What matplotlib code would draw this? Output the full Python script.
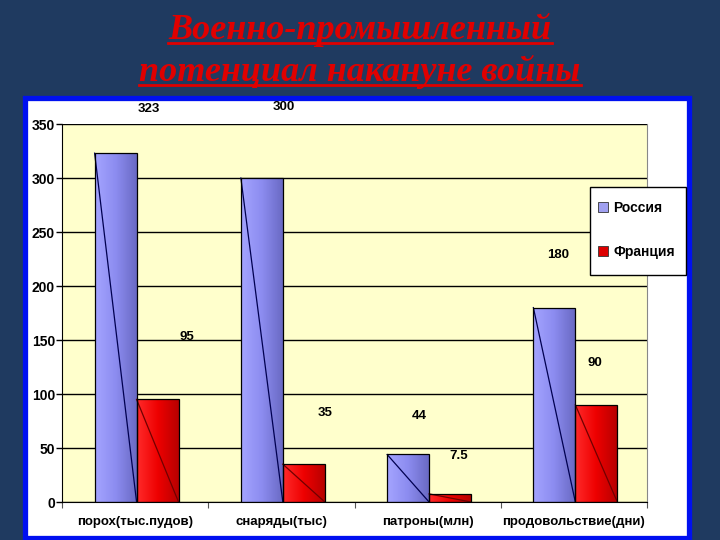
import matplotlib
matplotlib.use('Agg')
import matplotlib.pyplot as plt
import matplotlib.patches as mpatches
from matplotlib.colors import LinearSegmentedColormap
import numpy as np

# data
categories = ['порох(тыс.пудов)', 'снаряды(тыс)', 'патроны(млн)', 'продовольствие(дни)']
russia = [323, 300, 44, 180]
france = [95, 35, 7.5, 90]
series_names = ['Россия', 'Франция']
value_labels_ru = ['323', '300', '44', '180']
value_labels_fr = ['95', '35', '7.5', '90']
yticks = [0, 50, 100, 150, 200, 250, 300, 350]
title_lines = ['Военно-промышленный', 'потенциал накануне войны']

# where the (oddly placed) value labels sit, in points from the bar top centre
offs_ru = [(24, 32), (16, 51), (8, 28), (3, 38)]
offs_fr = [(21, 45), (15, 37), (6, 27), (-1, 30)]

plt.rcParams['font.family'] = ['Liberation Sans', 'DejaVu Sans']

fig = plt.figure(figsize=(7.2, 5.4), dpi=100)
fig.patch.set_facecolor('#1F3A60')

# white panel with blue frame
panel = mpatches.Rectangle((25 / 720, 1 - 537.5 / 540), 664 / 720, 440 / 540,
                           transform=fig.transFigure, facecolor='white',
                           edgecolor='#0010F0', linewidth=3.8, zorder=-1)
fig.patches.append(panel)

ax = fig.add_axes([62 / 720, 1 - 502 / 540, 585 / 720, 378 / 540])
ax.set_facecolor('#FFFFCC')
ax.set_zorder(1)

x = np.arange(len(categories))
w = 0.287
cm_ru = LinearSegmentedColormap.from_list('ru', ['#A4A4FF', '#8C8CF0', '#6A6AC4'])
cm_fr = LinearSegmentedColormap.from_list('fr', ['#FF2A2A', '#EE0000', '#B80000'])

bars_ru = ax.bar(x - w / 2 + 0.01, russia, w, facecolor='none', edgecolor='black', lw=0.9, zorder=3)
bars_fr = ax.bar(x + w / 2 + 0.01, france, w, facecolor='none', edgecolor='black', lw=0.9, zorder=3)

grad = np.linspace(0, 1, 64).reshape(1, -1)
for bars, cm, lc in [(bars_ru, cm_ru, '#000050'), (bars_fr, cm_fr, '#700000')]:
    for b in bars:
        x0, wd, h = b.get_x(), b.get_width(), b.get_height()
        im = ax.imshow(grad, cmap=cm, extent=(x0, x0 + wd, 0, h), aspect='auto', zorder=2)
        im.set_clip_path(b)
        ax.plot([x0, x0 + wd], [h, 0], color=lc, lw=0.9, zorder=2.5)

ax.set_xlim(-0.5, len(categories) - 0.5)
ax.set_ylim(0, 350)

# value labels
for bars, labs, offs in [(bars_ru, value_labels_ru, offs_ru), (bars_fr, value_labels_fr, offs_fr)]:
    for b, lab, (dx, dy) in zip(bars, labs, offs):
        ax.annotate(lab, (b.get_x() + b.get_width() / 2, b.get_height()),
                    xytext=(dx, dy), textcoords='offset points', ha='center', va='center',
                    fontsize=9.5, fontweight='bold', color='black',
                    annotation_clip=False, zorder=5)

ax.set_yticks(yticks)
ax.set_yticklabels([str(t) for t in yticks], fontsize=10, fontweight='bold')
ax.yaxis.grid(True, color='black', lw=1)
ax.set_axisbelow(True)
ax.tick_params(axis='y', length=4, width=1, pad=1)

ax.set_xticks(x)
ax.set_xticklabels(categories, fontsize=9.5, fontweight='bold')
ax.tick_params(axis='x', length=0, pad=10)
ax.set_xticks(np.arange(len(categories) + 1) - 0.5, minor=True)
ax.tick_params(axis='x', which='minor', length=4, width=0.8, color='#555555')

ax.spines['top'].set_visible(False)
ax.spines['right'].set_color('#888888')
ax.spines['left'].set_color('black')
ax.spines['bottom'].set_color('black')

# legend: frame drawn separately so it can be taller than its entries
leg_frame = mpatches.Rectangle((590 / 720, 1 - 275 / 540), 96 / 720, 88 / 540,
                               transform=fig.transFigure, facecolor='white',
                               edgecolor='black', linewidth=1.0, zorder=9)
fig.patches.append(leg_frame)
handles = [mpatches.Patch(facecolor='#A0A0F0', edgecolor='#333333', lw=0.6),
           mpatches.Patch(facecolor='#DD0000', edgecolor='#333333', lw=0.6)]
leg = fig.legend(handles, series_names, loc='center left',
                 bbox_to_anchor=(598 / 720, 1 - 230 / 540),
                 prop={'weight': 'bold', 'size': 10}, frameon=False,
                 handlelength=0.75, handleheight=0.75, handletextpad=0.35,
                 labelspacing=2.15, borderpad=0, borderaxespad=0)
leg.set_zorder(10)

# title with underline
ys = [1 - 30 / 540, 1 - 72 / 540]
texts = []
for line, yy in zip(title_lines, ys):
    t = fig.text(0.5, yy, line, ha='center', va='center', fontsize=26,
                 family=['Liberation Serif', 'DejaVu Serif'], style='italic',
                 fontweight='bold', color='#E00000')
    texts.append(t)
fig.canvas.draw()
r = fig.canvas.get_renderer()
inv = fig.transFigure.inverted()
for t in texts:
    bb = t.get_window_extent(r)
    (x0, y0), (x1, y1) = inv.transform([(bb.x0, bb.y0), (bb.x1, bb.y1)])
    fig.add_artist(plt.Line2D([x0, x1], [y0 + 0.007, y0 + 0.007], color='#E00000',
                              lw=2, transform=fig.transFigure))

fig.savefig('out.png', dpi=100, facecolor=fig.get_facecolor())
